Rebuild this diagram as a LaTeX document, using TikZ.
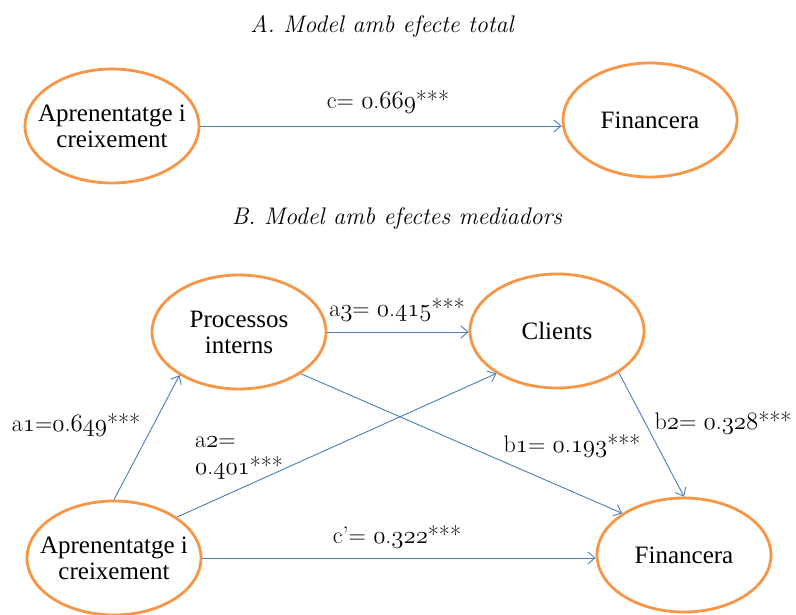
\documentclass[tikz,border=0pt]{standalone}
\usepackage{fontspec}
\usetikzlibrary{shapes.geometric,arrows.meta}
\newfontfamily\nodefont{Liberation Serif}
\newcommand\osn[1]{{\usefont{OML}{cmm}{m}{it}#1}}
\definecolor{oran}{HTML}{F79646}
\definecolor{lblue}{HTML}{4A7EBB}
\tikzset{
  latent/.style={ellipse, draw=oran, line width=2.8pt, minimum width=174pt, minimum height=114pt,
     inner sep=0pt},
  ntext/.style={align=center, inner sep=0pt, font=\nodefont\fontsize{25}{26}\selectfont},
  path/.style={draw=lblue, line width=0.9pt, -{Straight Barb[length=7pt,width=12pt]}},
  coef/.style={font=\fontsize{24}{27}\selectfont, inner sep=0pt},
  ttl/.style={font=\itshape\fontsize{24}{28}\selectfont, inner sep=0pt}
}
\begin{document}
\begin{tikzpicture}[x=1pt,y=-1pt]
\useasboundingbox[fill=white] (0,0) rectangle (796,615);
% Titles
\node[ttl] (tA) at (382,26) {A. Model amb efecte total};
\node[ttl] (tB) at (397,219) {B. Model amb efectes mediadors};
% Panel A
\node[latent, label={[ntext]center:Aprenentatge i\\creixement}] (aA) at (112,126) {};
\node[latent, label={[ntext]center:Financera}] (fA) at (650,120) {};
\draw[path] (aA.east) -- (aA.east -| fA.west);
\node[coef] (lc) at (388,102) {c= \osn{0}.\osn{669}***};
% Panel B
\node[latent, label={[ntext]center:Processos\\interns}] (proc) at (239,332) {};
\node[latent, label={[ntext]center:Clients}] (cli) at (557,331) {};
\node[latent, label={[ntext]center:Aprenentatge i\\creixement}] (aB) at (114,558) {};
\node[latent, label={[ntext]center:Financera}] (fB) at (684,555) {};
\draw[path] (aB.north) -- (proc.216);
\draw[path] (aB.33.5) -- (cli.215);
\draw[path] (proc.east) -- (proc.east -| cli.west);
\draw[path] (proc.326.5) -- (fB.146);
\draw[path] (cli.326) -- (fB.north);
\draw[path] (aB.east) -- (aB.east -| fB.west);
% Coefficients
\node[coef] (la1) at (76,425) {a\osn{1}=\osn{0}.\osn{649}***};
\node[coef, align=left, anchor=north west] (la2) at (195,437) {a\osn{2}=\\\osn{0}.\osn{401}***};
\node[coef] (la3) at (397,310) {a\osn{3}= \osn{0}.\osn{415}***};
\node[coef] (lb1) at (572,446) {b\osn{1}= \osn{0}.\osn{193}***};
\node[coef] (lb2) at (723,423) {b\osn{2}= \osn{0}.\osn{328}***};
\node[coef] (lcp) at (397,537) {c’= \osn{0}.\osn{322}***};
\end{tikzpicture}
\end{document}
